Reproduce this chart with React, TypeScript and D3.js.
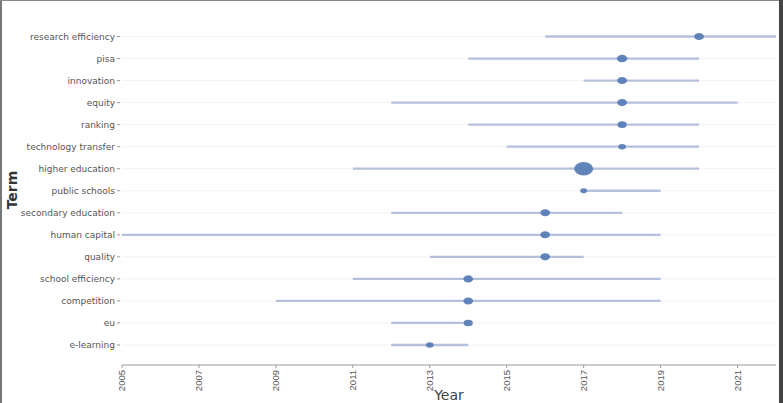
import React from "react";
import * as d3 from "d3";

const terms = [
  "research efficiency", "pisa", "innovation", "equity", "ranking",
  "technology transfer", "higher education", "public schools", "secondary education",
  "human capital", "quality", "school efficiency", "competition", "eu", "e-learning",
];
const yearStart = [2016, 2014, 2017, 2012, 2014, 2015, 2011, 2017, 2012, 2005, 2013, 2011, 2009, 2012, 2012];
const yearMedian = [2020, 2018, 2018, 2018, 2018, 2018, 2017, 2017, 2016, 2016, 2016, 2014, 2014, 2014, 2013];
const yearEnd = [2022, 2020, 2020, 2021, 2020, 2020, 2020, 2019, 2018, 2019, 2017, 2019, 2019, 2014, 2014];
const frequency = [8, 9, 8, 8, 7, 5, 30, 4, 8, 8, 8, 8, 8, 7, 5];
const xTicks = [2005, 2007, 2009, 2011, 2013, 2015, 2017, 2019, 2021];

const W = 783, H = 403;
const left = 122, right = 776, top = 25.5, bottom = 356, axisY = 365;

export default function App() {
  const x = d3.scaleLinear().domain([2005, 2022]).range([left, right]);
  const y = d3.scalePoint<string>().domain(terms).range([top, bottom]).padding(0.5);
  const r = d3.scaleSqrt().domain([0, 30]).range([0, 9.5]);
  const font = "'DejaVu Sans', Verdana, sans-serif";
  return (
    <svg width={W} height={H} style={{ position: "absolute", left: 0, top: 0, background: "#fff" }}>
      <rect x={0} y={0} width={W} height={H} fill="#fff" />
      {terms.map((t) => (
        <line key={"g" + t} x1={left} x2={right} y1={y(t)} y2={y(t)} stroke="#f3f3f3" strokeWidth={1} />
      ))}
      {terms.map((t) => (
        <g key={"l" + t}>
          <line x1={117} x2={120} y1={y(t)} y2={y(t)} stroke="#999" strokeWidth={1} />
          <text x={115} y={y(t)} dy="0.35em" textAnchor="end" fontSize={9} fill="#555" fontFamily={font}>{t}</text>
        </g>
      ))}
      {terms.map((t, i) => (
        <line key={"s" + t} x1={x(yearStart[i])} x2={x(yearEnd[i])} y1={y(t)} y2={y(t)} stroke="#b5c0dd" strokeWidth={2.3} />
      ))}
      {terms.map((t, i) => (
        <ellipse key={"c" + t} cx={x(yearMedian[i])} cy={y(t)} rx={r(frequency[i])} ry={r(frequency[i]) * 0.72} fill="#5a7eb5" fillOpacity={0.95} />
      ))}
      <line x1={left} x2={right} y1={axisY} y2={axisY} stroke="#999" strokeWidth={1} />
      {xTicks.map((v) => (
        <g key={"x" + v}>
          <line x1={x(v)} x2={x(v)} y1={axisY} y2={axisY + 3} stroke="#999" strokeWidth={1} />
          <text transform={`translate(${x(v) + 3},${axisY + 5}) rotate(-90)`} textAnchor="end" fontSize={9.5} fill="#555" fontFamily="'Liberation Sans Narrow', 'Liberation Sans', sans-serif">{v}</text>
        </g>
      ))}
      <text x={449} y={400} textAnchor="middle" fontSize={14} fill="#444" fontFamily={font}>Year</text>
      <text transform="translate(17,190) rotate(-90)" textAnchor="middle" fontSize={14} fontWeight="bold" fill="#333" fontFamily={font}>Term</text>
      <rect x={0} y={0} width={2} height={H} fill="#777" />
      <rect x={0} y={0} width={W} height={1} fill="#888" />
      <rect x={779} y={0} width={4} height={H} fill="#444" />
    </svg>
  );
}
